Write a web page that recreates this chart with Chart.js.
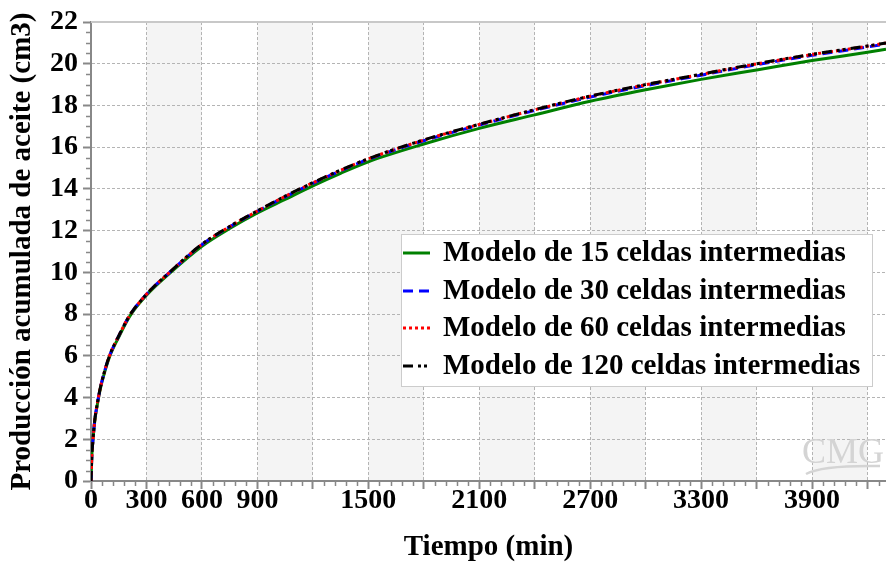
<!DOCTYPE html>
<html>
<head>
<meta charset="utf-8">
<script src="https://cdn.jsdelivr.net/npm/chart.js@4.4.0/dist/chart.umd.min.js"></script>
<style>
  body { margin: 0; background: #fff; }
  #wrap { width: 886px; height: 565px; }
</style>
</head>
<body>
<div id="wrap"><canvas id="curves" width="886" height="565"></canvas></div>
<script>
// time axis (min) and cumulative oil production (cm3) per grid model
const tiempo = [0, 5, 10, 20, 35, 50, 70, 100, 150, 210, 300, 425, 600, 750, 900, 1050, 1200, 1350, 1500, 1800, 2100, 2400, 2700, 3000, 3300, 3600, 3900, 4200, 4300];
const modelo15 = [0, 1.3, 1.9, 2.85, 3.7, 4.4, 5.1, 5.95, 6.9, 7.9, 8.9, 9.95, 11.25, 12.1, 12.85, 13.5, 14.15, 14.75, 15.3, 16.15, 16.9, 17.55, 18.2, 18.75, 19.25, 19.7, 20.15, 20.55, 20.7];
const modelo30 = [0, 1.3, 1.9, 2.9, 3.75, 4.45, 5.15, 6.0, 6.95, 7.95, 8.95, 10.0, 11.33, 12.18, 12.93, 13.62, 14.27, 14.87, 15.42, 16.31, 17.06, 17.76, 18.4, 18.95, 19.45, 19.95, 20.4, 20.8, 20.95];
const modelo60 = [0, 1.3, 1.9, 2.9, 3.75, 4.45, 5.15, 6.0, 6.95, 7.95, 8.95, 10.0, 11.34, 12.19, 12.94, 13.64, 14.29, 14.89, 15.44, 16.34, 17.09, 17.79, 18.44, 18.99, 19.49, 19.99, 20.44, 20.84, 20.99];
const modelo120 = [0, 1.3, 1.9, 2.9, 3.75, 4.45, 5.15, 6.0, 6.95, 7.95, 8.95, 10.0, 11.35, 12.2, 12.95, 13.65, 14.3, 14.9, 15.45, 16.35, 17.1, 17.8, 18.45, 19.0, 19.5, 20.0, 20.45, 20.85, 21.0];

const seriesLabels = [
  'Modelo de 15 celdas intermedias',
  'Modelo de 30 celdas intermedias',
  'Modelo de 60 celdas intermedias',
  'Modelo de 120 celdas intermedias'
];

const xGrid = [0, 300, 600, 900, 1200, 1500, 1800, 2100, 2400, 2700, 3000, 3300, 3600, 3900, 4200];
const xLabels = [0, 300, 600, 900, 1500, 2100, 2700, 3300, 3900];
const xMinorStep = 60;
const yMinorStep = 0.5;

const serif = "'Liberation Serif', 'Times New Roman', serif";
Chart.defaults.font.family = serif;
Chart.defaults.color = '#000';

const toPoints = ys => tiempo.map((t, i) => ({ x: t, y: ys[i] }));

// shaded columns, minor ticks, frame, watermark and the boxed legend
const decor = {
  id: 'decor',
  beforeDraw(chart) {
    const { ctx, chartArea: a, scales: { x } } = chart;
    ctx.save();
    ctx.fillStyle = '#f4f4f4';
    for (let i = 1; i < xGrid.length; i += 2) {
      const x0 = x.getPixelForValue(xGrid[i]);
      const x1 = i + 1 < xGrid.length ? x.getPixelForValue(xGrid[i + 1]) : a.right;
      ctx.fillRect(x0, a.top, Math.min(x1, a.right) - x0, a.bottom - a.top);
    }
    ctx.restore();
  },
  beforeDatasetsDraw(chart) {
    const { ctx } = chart;
    ctx.save();
    ctx.fillStyle = '#d4d4d4';
    ctx.font = '36px ' + serif;
    ctx.textAlign = 'center';
    ctx.textBaseline = 'alphabetic';
    ctx.fillText('CMG', 843, 463);
    ctx.strokeStyle = '#d4d4d4';
    ctx.lineWidth = 2.5;
    ctx.beginPath();
    ctx.moveTo(806, 474);
    ctx.quadraticCurveTo(822, 465, 880, 466);
    ctx.stroke();
    ctx.restore();
  },
  afterDraw(chart) {
    const { ctx, chartArea: a, scales: { x, y } } = chart;
    ctx.save();
    // top frame
    ctx.strokeStyle = '#c8c8c8';
    ctx.lineWidth = 2;
    ctx.beginPath();
    ctx.moveTo(a.left, a.top);
    ctx.lineTo(a.right, a.top);
    ctx.stroke();

    // minor ticks
    ctx.strokeStyle = '#888';
    ctx.lineWidth = 1.5;
    ctx.beginPath();
    for (let v = y.min; v <= y.max; v += yMinorStep) {
      if (v % 2 === 0) continue;
      const py = Math.round(y.getPixelForValue(v)) + 0.5;
      ctx.moveTo(a.left - 5, py);
      ctx.lineTo(a.left, py);
    }
    for (let t = x.min; t <= x.max; t += xMinorStep) {
      if (t % 300 === 0) continue;
      const px = Math.round(x.getPixelForValue(t)) + 0.5;
      ctx.moveTo(px, a.bottom);
      ctx.lineTo(px, a.bottom + 5);
    }
    ctx.stroke();

    // legend
    const box = { left: 401, top: 234, right: 872, bottom: 386 };
    ctx.fillStyle = '#fff';
    ctx.fillRect(box.left, box.top, box.right - box.left, box.bottom - box.top);
    ctx.strokeStyle = '#cccccc';
    ctx.lineWidth = 1;
    ctx.strokeRect(box.left + 0.5, box.top + 0.5, box.right - box.left, box.bottom - box.top);
    const rows = [253, 291, 328, 366];
    ctx.font = 'bold 29px ' + serif;
    ctx.textBaseline = 'middle';
    ctx.textAlign = 'left';
    chart.data.datasets.forEach((ds, i) => {
      const ry = rows[i];
      ctx.strokeStyle = ds.borderColor;
      ctx.lineWidth = 3;
      ctx.setLineDash(ds.borderDash || []);
      ctx.beginPath();
      ctx.moveTo(403, ry);
      ctx.lineTo(430, ry);
      ctx.stroke();
      ctx.setLineDash([]);
      ctx.fillStyle = '#000';
      ctx.fillText(ds.label, 443, ry + 1);
    });
    ctx.restore();
  }
};

new Chart(document.getElementById('curves'), {
  type: 'line',
  data: {
    datasets: [
      { label: seriesLabels[0], data: toPoints(modelo15), borderColor: '#008000', borderWidth: 3, order: 4 },
      { label: seriesLabels[1], data: toPoints(modelo30), borderColor: '#0000ff', borderWidth: 3, borderDash: [10, 6], order: 3 },
      { label: seriesLabels[2], data: toPoints(modelo60), borderColor: '#ff0000', borderWidth: 3, borderDash: [3, 3], order: 2 },
      { label: seriesLabels[3], data: toPoints(modelo120), borderColor: '#000000', borderWidth: 3, borderDash: [10, 5, 3, 3, 3, 5], order: 1 }
    ]
  },
  options: {
    responsive: false,
    animation: false,
    layout: { padding: { top: 22, left: 0, right: 0, bottom: 0 } },
    elements: {
      point: { radius: 0 },
      line: { cubicInterpolationMode: 'monotone', fill: false }
    },
    plugins: { legend: { display: false }, tooltip: { enabled: false } },
    scales: {
      x: {
        type: 'linear',
        min: 0,
        max: 4300,
        afterBuildTicks: s => { s.ticks = xGrid.map(v => ({ value: v })); },
        afterFit: s => { s.height = 84; },
        ticks: {
          autoSkip: false,
          maxRotation: 0,
          padding: -5,
          font: { size: 28, weight: 'bold' },
          callback: v => xLabels.includes(v) ? String(v) : ''
        },
        grid: { color: '#b4b4b4', tickColor: '#888', tickLength: 8, tickWidth: 2 },
        border: { color: '#888', width: 2, dash: [3, 2] },
        title: {
          display: true,
          text: 'Tiempo (min)',
          font: { size: 29, weight: 'bold' },
          padding: { top: 0, bottom: 0 }
        }
      },
      y: {
        min: 0,
        max: 22,
        afterFit: s => { s.width = 91; },
        ticks: { stepSize: 2, padding: 5, font: { size: 28, weight: 'bold' } },
        grid: { color: '#b4b4b4', tickColor: '#888', tickLength: 8, tickWidth: 2 },
        border: { color: '#888', width: 2, dash: [3, 2] },
        title: {
          display: true,
          text: 'Producción acumulada de aceite (cm3)',
          font: { size: 29, weight: 'bold' },
          padding: { top: 5, bottom: 0 }
        }
      }
    }
  },
  plugins: [decor]
});
</script>
</body>
</html>
